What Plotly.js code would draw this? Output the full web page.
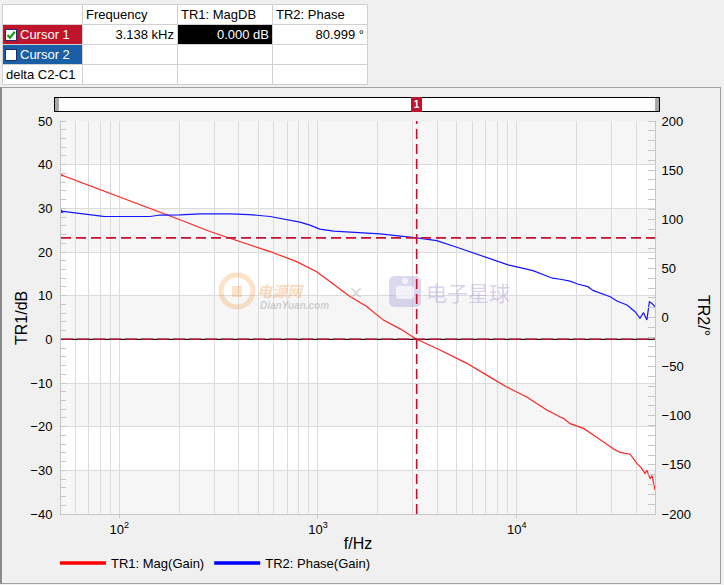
<!DOCTYPE html>
<html>
<head>
<meta charset="utf-8">
<script src="https://cdn.plot.ly/plotly-3.0.1.min.js"></script>
<style>
  html, body { margin:0; padding:0; background:#f0f0f0; }
  body { width:724px; height:585px; position:relative; overflow:hidden; font-family: Arial, "Liberation Sans", sans-serif; }
  #chart { position:absolute; left:0; top:0; width:724px; height:585px; }
  #panel { position:absolute; left:0; top:87px; width:721px; height:497px; border:1px solid #a0a0a0; border-left:2px solid #8a8a8a; box-sizing:border-box; pointer-events:none; }
  #cur { position:absolute; left:2px; top:4px; border-collapse:collapse; table-layout:fixed; background:#fff; font-size:13px; color:#000; }
  #cur td { border:1px solid #d0d0d0; height:19px; padding:0 3px; white-space:nowrap; overflow:hidden; line-height:19px; }
  #cur td.r { text-align:right; }
  .cb { display:inline-block; width:12px; height:12px; background:#fff; border:1px solid #1c2f6a; vertical-align:-2px; margin-right:3px; position:relative; box-sizing:border-box; }
  .cb svg { position:absolute; left:0; top:0; }
  #bar { position:absolute; left:54px; top:97px; width:606px; height:15px; border:1px solid #000; background:#fff; box-sizing:border-box; }
  #capL, #capR { position:absolute; top:0; width:4px; height:13px; background:#a8a8a8; }
  #capL { left:0; } #capR { right:0; }
  #mk { position:absolute; left:411px; top:97px; width:11px; height:15px; background:#c0142c; color:#fff; font-size:10px; font-weight:bold; text-align:center; line-height:15px; }
</style>
</head>
<body>
<div id="chart"></div>
<div id="panel"></div>
<table id="cur">
  <colgroup><col style="width:80px"><col style="width:95px"><col style="width:95px"><col style="width:95px"></colgroup>
  <tr><td></td><td>Frequency</td><td>TR1: MagDB</td><td>TR2: Phase</td></tr>
  <tr><td style="background:#c0142c;color:#fff;padding-left:2px"><span class="cb"><svg width="10" height="10" viewBox="0 0 10 10"><polyline points="1.5,5 4,7.8 8.8,1.8" fill="none" stroke="#1f9a1f" stroke-width="2.2"/></svg></span>Cursor 1</td><td class="r" id="cfreq"></td><td class="r" style="background:#000;color:#fff" id="cmag"></td><td class="r" id="cph"></td></tr>
  <tr><td style="background:#1a5ea6;color:#fff;padding-left:2px"><span class="cb"></span>Cursor 2</td><td></td><td></td><td></td></tr>
  <tr><td>delta C2-C1</td><td></td><td></td><td></td></tr>
</table>
<div id="bar"><div id="capL"></div><div id="capR"></div></div>
<div id="mk">1</div>
<script>
// ---- data ----
const magFreq = [50, 71, 90, 113, 143, 160, 202, 286, 360, 455, 574, 723, 781, 985, 1194, 1291, 1449, 1758, 2133, 2588, 3138, 4113, 5610, 7063, 8912, 11240, 14170, 16560, 17180, 18570, 21680, 24330, 26300, 28430, 31000, 33170, 37240, 40250, 42500, 44200, 45200, 46900, 48000, 49660];
const magDB   = [37.8, 35.2, 33.5, 31.8, 30.0, 29.1, 27.4, 24.7, 23.1, 21.6, 20.1, 18.4, 17.8, 15.5, 12.6, 11.4, 9.8, 7.5, 4.4, 2.4, 0.0, -2.45, -5.5, -8.2, -10.9, -13.2, -16.2, -17.8, -18.1, -19.3, -20.4, -21.9, -23.0, -23.9, -25.2, -25.9, -26.3, -28.4, -29.5, -30.7, -30.0, -31.9, -31.2, -34.5];

const phaseFreq = [50, 60, 71, 83, 143, 160, 202, 255, 360, 450, 574, 645, 700, 811, 910, 1021, 1200, 1449, 2052, 3138, 3960, 5170, 7063, 9050, 12080, 15150, 16560, 18570, 20240, 22780, 24330, 26300, 29580, 31950, 35880, 39420, 41720, 43470, 45200, 46530, 47800, 49660];
const phaseDeg  = [108.5, 106.5, 104.5, 103.0, 102.8, 104.3, 104.5, 105.5, 105.5, 104.8, 102.8, 101.0, 99.0, 97.0, 94.0, 90.0, 88.0, 87.0, 85.1, 81.0, 78.3, 70.5, 61.4, 53.5, 47.7, 40.0, 38.9, 37.0, 34.1, 31.4, 27.3, 24.7, 21.2, 16.8, 12.7, 5.9, -0.8, 4.9, -2.5, 16.1, 14.5, 11.0];

const cursorFreq = 3138;     // Hz
const cursorMag = 0.000;     // dB
const cursorPhase = 80.999;  // deg

const xTickVals = [100, 1000, 10000];
const xTickText = ['10<sup>2</sup>', '10<sup>3</sup>', '10<sup>4</sup>'];
const xRange = [50.9, 49660];
const magRange = [-40, 50];
const phaseRange = [-200, 200];
const traceNames = ['TR1: Mag(Gain)', 'TR2: Phase(Gain)'];
const axisTitles = ['f/Hz', 'TR1/dB', 'TR2/°'];
const bandLows = [40, 20, 0, -20, -40];

// fill table
document.getElementById('cfreq').textContent = (cursorFreq/1000).toFixed(3) + ' kHz';
document.getElementById('cmag').textContent = cursorMag.toFixed(3) + ' dB';
document.getElementById('cph').textContent = cursorPhase.toFixed(3) + ' °';

// minor grid positions for the log axis
const minorVals = [];
for (let e = 1; e <= 4; e++) for (let d = 2; d <= 9; d++) minorVals.push(d * Math.pow(10, e));

const RED = '#ff2424', BLUE = '#1414ff', CUR = '#c8102e', GRID = '#dcdcdc', AX = '#c6c6c6';
const FONT = 'Arial, "Liberation Sans", sans-serif';
const CJK = '"Noto Sans CJK SC", sans-serif';

const traces = [
  { x: magFreq, y: magDB, type: 'scatter', mode: 'lines', line: { color: RED, width: 1.2 }, showlegend: false, name: traceNames[0], yaxis: 'y' },
  { x: phaseFreq, y: phaseDeg, type: 'scatter', mode: 'lines', line: { color: BLUE, width: 1.2 }, showlegend: false, name: traceNames[1], yaxis: 'y2' },
  { x: [magFreq[0]], y: [magDB[0]], type: 'scatter', mode: 'markers', marker: { symbol: 'triangle-up-open', size: 6, color: RED, line: { width: 1 } }, showlegend: false, hoverinfo: 'skip' },
  { x: [phaseFreq[0]], y: [phaseDeg[0]], type: 'scatter', mode: 'markers', marker: { symbol: 'triangle-up-open', size: 6, color: BLUE, line: { width: 1 } }, showlegend: false, hoverinfo: 'skip', yaxis: 'y2' },
  { x: [null], y: [null], type: 'scatter', mode: 'lines', line: { color: '#ff0000', width: 3.5 }, name: traceNames[0] },
  { x: [null], y: [null], type: 'scatter', mode: 'lines', line: { color: '#0000ff', width: 3.5 }, name: traceNames[1] }
];

const shapes = [];
bandLows.forEach(lo => shapes.push({ type: 'rect', xref: 'paper', yref: 'y', x0: 0, x1: 1, y0: lo, y1: lo + 10, fillcolor: '#f6f6f6', line: { width: 0 }, layer: 'below' }));

// watermark (faint), positioned in paper fractions from page pixels
const PX = (px) => (px - 61) / 594, PY = (py) => (514 - py) / 393;
shapes.push({ type: 'circle', xref: 'paper', yref: 'paper', x0: PX(221), x1: PX(253), y0: PY(307), y1: PY(275), line: { color: 'rgba(245,150,60,0.28)', width: 5 }, fillcolor: 'rgba(0,0,0,0)' });
shapes.push({ type: 'rect', xref: 'paper', yref: 'paper', x0: PX(232), x1: PX(242), y0: PY(297), y1: PY(286), line: { width: 0 }, fillcolor: 'rgba(245,150,60,0.28)' });
shapes.push({ type: 'path', xref: 'paper', yref: 'paper', path: roundRect(389, 276, 421, 307, 6), line: { width: 0 }, fillcolor: 'rgba(165,150,215,0.38)' });
shapes.push({ type: 'path', xref: 'paper', yref: 'paper', path: roundRect(396, 286, 414, 299, 3), line: { width: 0 }, fillcolor: 'rgba(255,255,255,0.65)' });
shapes.push({ type: 'circle', xref: 'paper', yref: 'paper', x0: PX(402), x1: PX(408), y0: PY(284), y1: PY(278), line: { width: 0 }, fillcolor: 'rgba(255,255,255,0.65)' });

// cursor and zero lines
shapes.push({ type: 'line', xref: 'paper', yref: 'y', x0: 0, x1: 1, y0: 0, y1: 0, line: { color: '#000', width: 1.3 } });
shapes.push({ type: 'line', xref: 'paper', yref: 'y', x0: 0, x1: 1, y0: cursorMag, y1: cursorMag, line: { color: '#b0102a', width: 1.5, dash: '12px,4px' } });
shapes.push({ type: 'line', xref: 'paper', yref: 'y2', x0: 0, x1: 1, y0: cursorPhase, y1: cursorPhase, line: { color: CUR, width: 1.6, dash: '10px,5px' } });
shapes.push({ type: 'line', xref: 'x', yref: 'paper', x0: cursorFreq, x1: cursorFreq, y0: 0, y1: 1, line: { color: CUR, width: 1.6, dash: '10px,5px' } });

function roundRect(x0, y0, x1, y1, r) {
  const X = (p) => PX(p).toFixed(5), Y = (p) => PY(p).toFixed(5);
  return 'M' + X(x0 + r) + ',' + Y(y0) + ' L' + X(x1 - r) + ',' + Y(y0) + ' Q' + X(x1) + ',' + Y(y0) + ' ' + X(x1) + ',' + Y(y0 + r) +
    ' L' + X(x1) + ',' + Y(y1 - r) + ' Q' + X(x1) + ',' + Y(y1) + ' ' + X(x1 - r) + ',' + Y(y1) +
    ' L' + X(x0 + r) + ',' + Y(y1) + ' Q' + X(x0) + ',' + Y(y1) + ' ' + X(x0) + ',' + Y(y1 - r) +
    ' L' + X(x0) + ',' + Y(y0 + r) + ' Q' + X(x0) + ',' + Y(y0) + ' ' + X(x0 + r) + ',' + Y(y0) + ' Z';
}

const ann = (x, y, text, font, extra) => Object.assign({ xref: 'paper', yref: 'paper', x: x, y: y, text: text, showarrow: false, xanchor: 'center', yanchor: 'middle', font: font }, extra || {});
const annotations = [
  ann(PX(21), PY(318), axisTitles[1], { size: 16, color: '#000', family: FONT }, { textangle: -90 }),
  ann(PX(704), PY(316), axisTitles[2], { size: 16, color: '#000', family: FONT }, { textangle: 90 }),
  ann(PX(280), PY(290), '<b><i>电源网</i></b>', { size: 15, color: 'rgba(245,150,60,0.35)', family: CJK }),
  ann(PX(294), PY(305), '<b><i>DianYuan.com</i></b>', { size: 10, color: 'rgba(150,150,150,0.45)', family: FONT }),
  ann(PX(356), PY(292), '×', { size: 24, color: 'rgba(170,170,170,0.45)', family: FONT }),
  ann(PX(468), PY(292), '电子星球', { size: 21, color: 'rgba(160,140,210,0.40)', family: CJK })
];

const layout = {
  width: 724, height: 585,
  margin: { l: 61, r: 69, t: 121, b: 71, autoexpand: false },
  paper_bgcolor: '#f0f0f0', plot_bgcolor: '#ffffff',
  font: { family: FONT, size: 13, color: '#000' },
  showlegend: true,
  legend: { orientation: 'h', x: -0.0101, xanchor: 'left', y: -0.125, yanchor: 'middle', bgcolor: 'rgba(0,0,0,0)', font: { size: 13, color: '#000' }, itemwidth: 46 },
  xaxis: {
    type: 'log', range: [Math.log10(xRange[0]), Math.log10(xRange[1])],
    tickmode: 'array', tickvals: xTickVals, ticktext: xTickText,
    showgrid: true, gridcolor: GRID, gridwidth: 1, zeroline: false,
    showline: true, linecolor: AX, linewidth: 1,
    ticks: 'outside', ticklen: 3, tickcolor: AX,
    tickfont: { size: 13 },
    minor: { tickmode: 'array', tickvals: minorVals, showgrid: true, gridcolor: GRID, ticks: '' },
    title: { text: axisTitles[0], font: { size: 16 }, standoff: 2 }
  },
  yaxis: {
    range: magRange, tick0: 0, dtick: 10,
    showgrid: true, gridcolor: GRID, zeroline: false,
    showline: true, linecolor: AX,
    ticks: 'outside', ticklen: 5, tickcolor: 'rgba(0,0,0,0)',
    minor: { dtick: 2, ticks: 'inside', ticklen: 5, tickcolor: AX, showgrid: false }
  },
  yaxis2: {
    range: phaseRange, tick0: 0, dtick: 50, overlaying: 'y', side: 'right',
    showgrid: false, zeroline: false, showline: true, linecolor: AX,
    ticks: 'outside', ticklen: 3, tickcolor: 'rgba(0,0,0,0)',
    minor: { dtick: 10, ticks: 'inside', ticklen: 7, tickcolor: AX, showgrid: false }
  },
  shapes: shapes,
  annotations: annotations
};

Plotly.newPlot('chart', traces, layout, { displayModeBar: false, staticPlot: true });
</script>
</body>
</html>
